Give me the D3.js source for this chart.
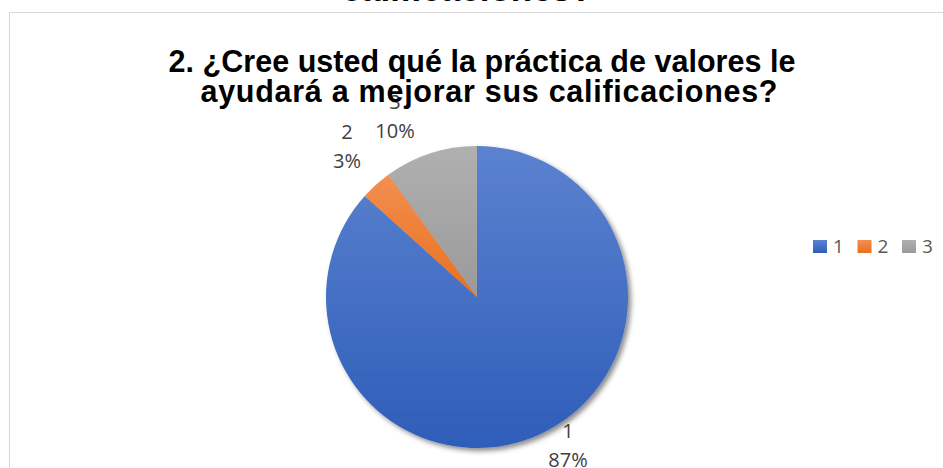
<!DOCTYPE html>
<html>
<head>
<meta charset="utf-8">
<script src="https://cdn.jsdelivr.net/npm/d3@7"></script>
<style>
  html, body { margin: 0; padding: 0; background: #ffffff; }
  svg { display: block; }
</style>
</head>
<body>
<script>
// ---- data ----
const categories = ["1", "2", "3"];
const values = [26, 1, 3];
const percentLabels = ["87%", "3%", "10%"];
const titleLines = ["2. ¿Cree usted qué la práctica de valores le", "ayudará a mejorar sus calificaciones?"];
const prevTitleTail = "calificaciones?";
const colorsTop = ["#5b82cf", "#f28f51", "#b0b0b0"];
const colorsBottom = ["#2e5db9", "#ea6f1c", "#9a9a9a"];

// ---- layout ----
const W = 943, H = 468;
const cx = 477, cy = 297, R = 151;
const labelOffsets = [[91, 149], [-130, -150], [-82, -180]]; // label block centres relative to pie centre
const titleLayout = [{x: 482, y: 72, len: 627}, {x: 489, y: 102, len: 577}];

const svg = d3.select("body").append("svg").attr("width", W).attr("height", H);
const defs = svg.append("defs");

categories.forEach((c, i) => {
  const g = defs.append("linearGradient").attr("id", "grad" + i)
    .attr("x1", 0).attr("y1", 0).attr("x2", 0).attr("y2", 1);
  g.append("stop").attr("offset", "0%").attr("stop-color", colorsTop[i]);
  g.append("stop").attr("offset", "100%").attr("stop-color", colorsBottom[i]);
});

const f = defs.append("filter").attr("id", "shadow")
  .attr("x", "-20%").attr("y", "-20%").attr("width", "140%").attr("height", "140%");
f.append("feDropShadow").attr("dx", 3).attr("dy", 3).attr("stdDeviation", 2.5)
  .attr("flood-color", "#000").attr("flood-opacity", 0.45);

// cut-off title of a previous chart
svg.append("text")
  .attr("x", 467).attr("y", 1)
  .attr("text-anchor", "middle")
  .attr("font-family", "'Liberation Sans', Arial, sans-serif")
  .attr("font-weight", "bold").attr("font-size", 35)
  .attr("fill", "#000")
  .text(prevTitleTail);

// chart frame
svg.append("rect")
  .attr("x", 9.5).attr("y", 12.5).attr("width", W + 20).attr("height", H + 20)
  .attr("fill", "#ffffff").attr("stroke", "#d9d9d9").attr("stroke-width", 1);

// pie
const pie = d3.pie().sort(null).value(d => d);
const arcs = pie(values);
const arc = d3.arc().innerRadius(0).outerRadius(R);

const pieG = svg.append("g").attr("transform", `translate(${cx},${cy})`)
  .attr("filter", "url(#shadow)");
pieG.selectAll("path").data(arcs).enter().append("path")
  .attr("d", arc)
  .attr("fill", (d, i) => `url(#grad${i})`)
  .attr("stroke", "none");

// data labels
const labelsG = svg.append("g").attr("transform", `translate(${cx},${cy})`);
arcs.forEach((a, i) => {
  const [dx, dy] = labelOffsets[i];
  const t = labelsG.append("text")
    .attr("text-anchor", "middle")
    .attr("font-family", "'Open Sans', sans-serif")
    .attr("font-size", 20)
    .attr("fill", "#404040");
  t.append("tspan").attr("x", dx).attr("y", dy - 8).text(categories[i]);
  t.append("tspan").attr("x", dx).attr("y", dy + 21).text(percentLabels[i]);
});

// title
const title = svg.append("text")
  .attr("text-anchor", "middle")
  .attr("font-family", "'Liberation Sans', Arial, sans-serif")
  .attr("font-weight", "bold").attr("font-size", 30.5)
  .attr("fill", "#000");
titleLines.forEach((l, i) => {
  title.append("tspan").attr("x", titleLayout[i].x).attr("y", titleLayout[i].y)
    .attr("textLength", titleLayout[i].len).attr("lengthAdjust", "spacing")
    .text(l);
});

// legend
const legendX = 813, legendY = 240, legendStep = 44.5;
const lg = svg.append("g");
categories.forEach((c, i) => {
  const g = lg.append("g").attr("transform", `translate(${legendX + i * legendStep},${legendY})`);
  g.append("rect").attr("width", 14).attr("height", 13).attr("fill", `url(#grad${i})`);
  g.append("text").attr("x", 20).attr("y", 13)
    .attr("font-family", "'Open Sans', sans-serif")
    .attr("font-size", 19).attr("fill", "#595959")
    .text(c);
});
</script>
</body>
</html>
